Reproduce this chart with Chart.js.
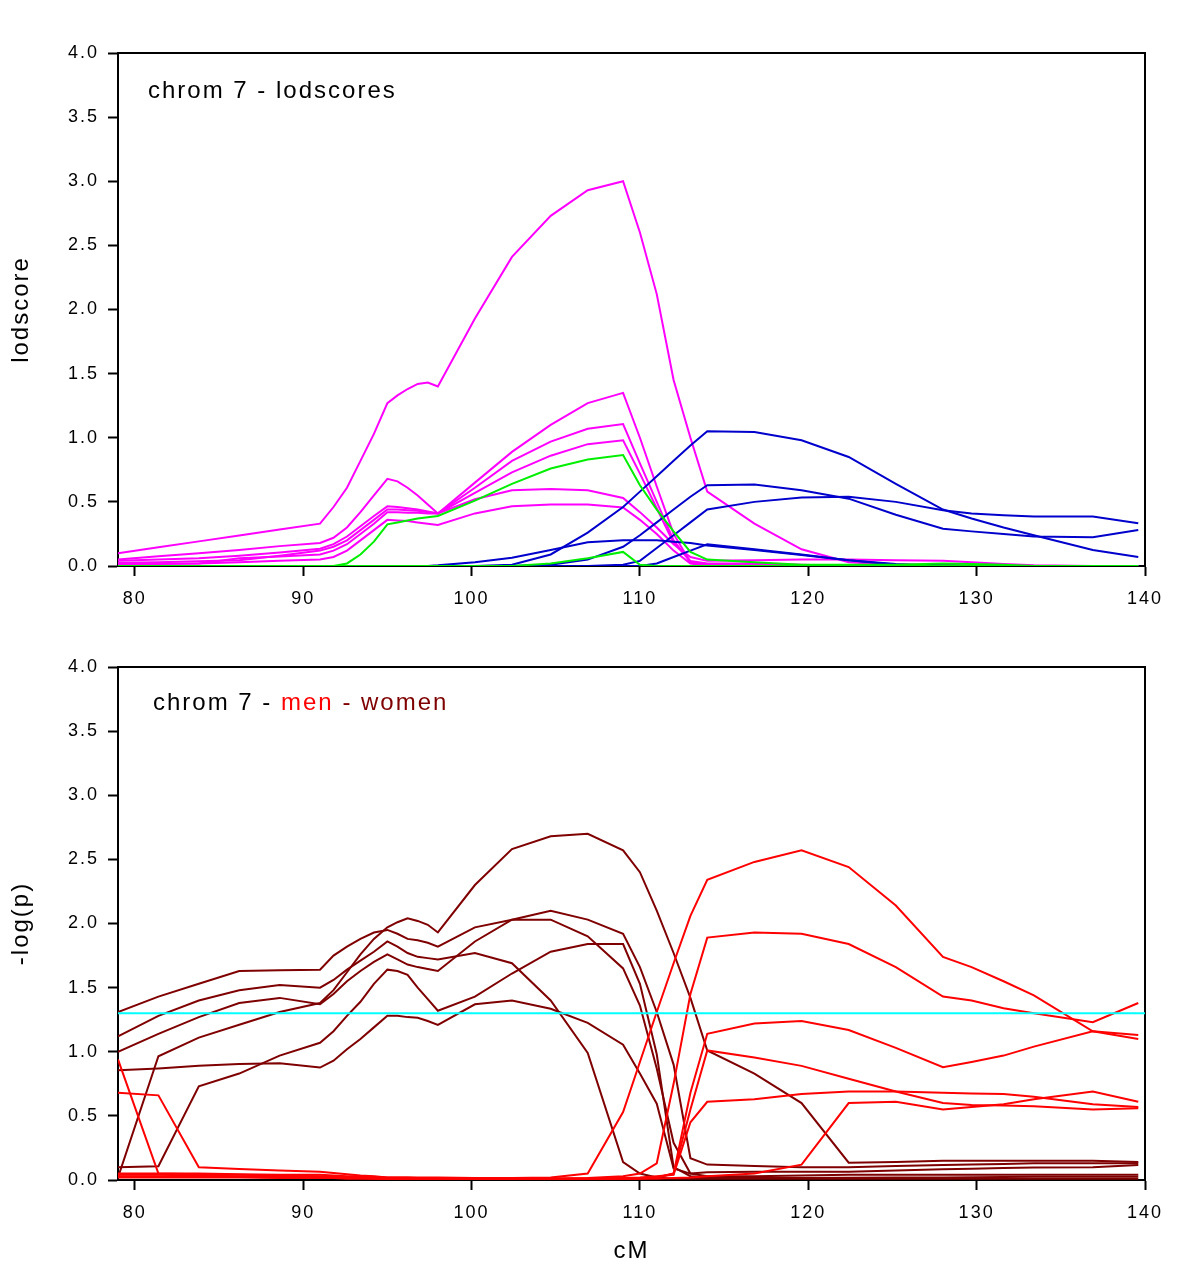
<!DOCTYPE html>
<html><head><meta charset="utf-8">
<script src="https://cdn.jsdelivr.net/npm/chart.js@4.4.1/dist/chart.umd.min.js"></script>
<style>
html,body{margin:0;padding:0;background:#fff;}
#wrap{position:relative;width:1200px;height:1271px;background:#fff;}
canvas{position:absolute;left:0;}
#c1{top:0}
#c2{top:630px}
</style></head><body>
<div id="wrap"><canvas id="c1" width="1200" height="630"></canvas><canvas id="c2" width="1200" height="641"></canvas></div>
<script>
// ---- data (cM positions shared by all curves) ----
const CM = [79, 81.4, 83.8, 86.2, 88.6, 91, 91.8, 92.6, 93.4, 94.2, 95, 95.6, 96.2, 96.8, 97.4, 98,
            100.2, 102.4, 104.7, 106.9, 109, 110, 111, 112, 113, 114,
            116.8, 119.6, 122.4, 125.2, 128, 129.7, 131.6, 133.4, 136.9, 139.6];
const X_TICKS = [80, 90, 100, 110, 120, 130, 140];
const Y_TICKS = [0, 0.5, 1, 1.5, 2, 2.5, 3, 3.5, 4];
const THRESHOLD = 1.3;

// top panel: lodscores
const LOD_MAGENTA_1 = [0.10,0.146,0.192,0.238,0.284,0.33, 0.46,0.61,0.82,1.03,1.27,1.33,1.38,1.42,1.43,1.40, 1.93,2.41,2.73,2.93,3.00, 2.60,2.12,1.45,1.00,0.58, 0.33,0.13,0.03,0.01,0.01,0,0,0,0,0];
const LOD_MAGENTA_2 = [0.05,0.076,0.10,0.125,0.155,0.18, 0.22,0.30,0.42,0.55,0.68,0.66,0.61,0.55,0.48,0.41, 0.65,0.89,1.10,1.27,1.35, 1.00,0.62,0.25,0.03,0.0, 0,0,0,0,0,0,0,0,0,0];
const LOD_MAGENTA_3 = [0.04,0.05,0.06,0.08,0.105,0.135, 0.17,0.23,0.31,0.39,0.465,0.46,0.45,0.44,0.425,0.41, 0.61,0.82,0.97,1.07,1.107, 0.80,0.50,0.20,0.03,0.01, 0.01,0,0,0,0,0,0,0,0,0];
const LOD_MAGENTA_4 = [0.025,0.03,0.037,0.045,0.08,0.12, 0.15,0.20,0.28,0.36,0.44,0.44,0.435,0.43,0.42,0.41, 0.57,0.73,0.86,0.95,0.98, 0.72,0.45,0.18,0.04,0.02, 0.02,0.01,0,0,0,0,0,0,0,0];
const LOD_MAGENTA_5 = [0.015,0.018,0.02,0.06,0.075,0.09, 0.12,0.17,0.25,0.33,0.42,0.42,0.415,0.415,0.41,0.41, 0.52,0.59,0.60,0.59,0.53, 0.42,0.30,0.17,0.07,0.04, 0.045,0.05,0.05,0.045,0.04,0.03,0.015,0.005,0,0];
const LOD_MAGENTA_6 = [0.01,0.015,0.02,0.03,0.04,0.05, 0.07,0.12,0.20,0.28,0.36,0.355,0.35,0.34,0.33,0.32, 0.41,0.466,0.48,0.48,0.457, 0.36,0.25,0.12,0.02,0.0, 0,0,0,0,0,0,0,0,0,0];
const LOD_GREEN_1 = [0,0,0,0,0,0, 0.0,0.02,0.09,0.19,0.325,0.34,0.355,0.37,0.38,0.39, 0.51,0.64,0.76,0.83,0.865, 0.63,0.44,0.27,0.11,0.05, 0.03,0.01,0.01,0.01,0.02,0.015,0.01,0,0,0];
const LOD_GREEN_2 = [0,0,0,0,0,0, 0,0,0,0,0,0,0,0,0,0, 0,0.0,0.02,0.06,0.11, 0.01,0,0,0,0, 0,0,0,0,0,0,0,0,0,0];
const LOD_BLUE_1 = [0,0,0,0,0,0, 0,0,0,0,0,0,0,0,0,0, 0,0.01,0.09,0.26,0.46, 0.58,0.70,0.82,0.94,1.05, 1.045,0.98,0.85,0.64,0.44,0.37,0.30,0.24,0.125,0.07];
const LOD_BLUE_2 = [0,0,0,0,0,0, 0,0,0,0,0,0,0,0,0,0, 0,0,0.01,0.05,0.15, 0.24,0.34,0.44,0.54,0.63, 0.635,0.59,0.525,0.40,0.29,0.27,0.25,0.23,0.224,0.28];
const LOD_BLUE_3 = [0,0,0,0,0,0, 0,0,0,0,0,0,0,0,0,0, 0,0,0,0,0.01, 0.04,0.14,0.24,0.34,0.44, 0.50,0.535,0.54,0.50,0.435,0.41,0.395,0.385,0.385,0.333];
const LOD_BLUE_4 = [0,0,0,0,0,0, 0,0,0,0,0,0,0,0,0,0.005, 0.03,0.065,0.125,0.185,0.20, 0.20,0.20,0.19,0.18,0.16, 0.125,0.085,0.045,0.015,0,0,0,0,0,0];
const LOD_BLUE_5 = [0,0,0,0,0,0, 0,0,0,0,0,0,0,0,0,0, 0,0,0,0,0, 0,0.02,0.07,0.12,0.17, 0.13,0.09,0.045,0.01,0.005,0,0,0,0,0];

// bottom panel: -log(p), women (dark red) and men (red)
const WOMEN_1 = [0.02,0.965,1.11,1.21,1.31,1.38, 1.48,1.62,1.76,1.88,1.97,2.01,2.04,2.02,1.99,1.93, 2.30,2.58,2.68,2.70,2.57, 2.40,2.10,1.77,1.42,1.01, 0.83,0.60,0.135,0.14,0.15,0.15,0.15,0.15,0.15,0.14];
const WOMEN_2 = [1.31,1.43,1.53,1.63,1.635,1.64, 1.75,1.82,1.88,1.93,1.95,1.92,1.88,1.87,1.85,1.82, 1.97,2.03,2.03,1.90,1.65, 1.36,0.87,0.29,0.05,0.03, 0.03,0.035,0.04,0.04,0.04,0.04,0.04,0.04,0.04,0.04];
const WOMEN_3 = [1.12,1.28,1.40,1.48,1.52,1.50, 1.56,1.64,1.71,1.78,1.86,1.82,1.77,1.74,1.73,1.72, 1.77,1.69,1.40,0.99,0.14, 0.05,0.02,0.01,0.01,0.01, 0.01,0.01,0.01,0.01,0.01,0.01,0.01,0.01,0.01,0.01];
const WOMEN_4 = [1.00,1.14,1.27,1.38,1.42,1.37, 1.45,1.55,1.63,1.70,1.76,1.72,1.68,1.66,1.645,1.63, 1.86,2.03,2.10,2.03,1.92, 1.66,1.31,0.90,0.17,0.12, 0.11,0.10,0.10,0.11,0.117,0.12,0.125,0.13,0.13,0.13];
const WOMEN_5 = [0.855,0.87,0.89,0.905,0.91,0.877, 0.93,1.02,1.10,1.19,1.28,1.28,1.27,1.265,1.24,1.21, 1.37,1.40,1.335,1.225,1.055, 0.83,0.595,0.09,0.05,0.06, 0.065,0.065,0.065,0.075,0.083,0.088,0.093,0.097,0.10,0.117];
const WOMEN_6 = [0.10,0.107,0.73,0.83,0.97,1.07, 1.16,1.28,1.39,1.53,1.64,1.63,1.60,1.50,1.41,1.32, 1.43,1.61,1.78,1.84,1.84, 1.53,0.98,0.10,0.03,0.02, 0.015,0.015,0.017,0.02,0.02,0.022,0.024,0.025,0.025,0.026];
const MEN_1 = [0.05,0.05,0.05,0.045,0.04,0.04, 0.035,0.03,0.03,0.025,0.02,0.02,0.02,0.02,0.02,0.02, 0.015,0.015,0.02,0.05,0.53, 0.92,1.31,1.69,2.06,2.34, 2.48,2.57,2.44,2.14,1.74,1.66,1.55,1.44,1.16,1.10];
const MEN_2 = [0.68,0.66,0.10,0.085,0.075,0.065, 0.055,0.045,0.035,0.03,0.02,0.02,0.02,0.015,0.015,0.015, 0.01,0.01,0.01,0.015,0.03, 0.05,0.13,0.75,1.45,1.89, 1.93,1.92,1.84,1.66,1.43,1.40,1.34,1.30,1.23,1.38];
const MEN_3 = [0.94,0.05,0.045,0.04,0.035,0.03, 0.025,0.02,0.02,0.015,0.01,0.01,0.01,0.01,0.01,0.01, 0.01,0.01,0.01,0.01,0.01, 0.015,0.02,0.05,0.68,1.14, 1.22,1.24,1.17,1.03,0.88,0.92,0.97,1.04,1.16,1.13];
const MEN_4 = [0.04,0.04,0.035,0.03,0.03,0.025, 0.02,0.02,0.015,0.015,0.01,0.01,0.01,0.01,0.01,0.01, 0.01,0.01,0.01,0.01,0.01, 0.01,0.02,0.05,0.55,1.01, 0.955,0.89,0.79,0.69,0.60,0.585,0.58,0.575,0.55,0.56];
const MEN_5 = [0.03,0.03,0.025,0.025,0.02,0.02, 0.02,0.015,0.015,0.01,0.01,0.01,0.01,0.01,0.01,0.01, 0.01,0.01,0.01,0.01,0.01, 0.01,0.01,0.015,0.02,0.03, 0.05,0.12,0.60,0.61,0.55,0.57,0.59,0.63,0.69,0.61];
const MEN_6 = [0.02,0.02,0.02,0.02,0.015,0.015, 0.015,0.01,0.01,0.01,0.01,0.01,0.01,0.01,0.01,0.01, 0.01,0.01,0.01,0.01,0.015, 0.02,0.03,0.04,0.45,0.61, 0.63,0.67,0.69,0.69,0.68,0.675,0.67,0.65,0.59,0.57];

// ---- styling ----
const FONT = '"Liberation Sans", Arial, Helvetica, sans-serif';
const C_MAGENTA = '#ff00ff', C_GREEN = '#00ee00', C_BLUE = '#0000cc';
const C_WOMEN = '#7f0000', C_MEN = '#ff0000', C_CYAN = '#00ffff';

Chart.defaults.font.family = FONT;
Chart.defaults.color = '#000';

const pts = vals => vals.map((v, i) => ({x: CM[i], y: v}));
const line = (vals, color, w) => ({data: pts(vals), borderColor: color, borderWidth: w || 2,
  pointRadius: 0, tension: 0, fill: false});

const spacing = {
  id: 'spacing',
  beforeDraw(chart) { chart.ctx.letterSpacing = '2px'; }
};
const frame = {
  id: 'frame',
  beforeDatasetsDraw(chart) {
    const a = chart.chartArea, ctx = chart.ctx;
    ctx.save(); ctx.strokeStyle = '#000'; ctx.lineWidth = 2;
    ctx.strokeRect(a.left, a.top, a.right - a.left, a.bottom - a.top);
    ctx.restore();
  }
};
const panelLabel = {
  id: 'panelLabel',
  afterDraw(chart, args, opts) {
    const ctx = chart.ctx, a = chart.chartArea;
    ctx.save();
    ctx.font = '24px ' + FONT; ctx.letterSpacing = '2px';
    ctx.textBaseline = 'middle'; ctx.textAlign = 'left';
    let x = a.left + opts.dx; const y = a.top + opts.dy;
    for (const [t, c] of opts.parts) { ctx.fillStyle = c; ctx.fillText(t, x, y); x += ctx.measureText(t).width; }
    ctx.restore();
  }
};

function scales(xH, yTitle, xTitle) {
  return {
    x: {
      type: 'linear', min: 79, max: 140,
      afterBuildTicks: s => { s.ticks = X_TICKS.map(v => ({value: v})); },
      afterFit: s => { s.height = xH; },
      ticks: {autoSkip: false, maxRotation: 0, padding: 12, font: {size: 18}, color: '#000',
        callback: v => String(v)},
      grid: {display: true, drawOnChartArea: false, drawTicks: true, tickLength: 10, tickWidth: 2, tickColor: '#000'},
      border: {display: true, color: '#000', width: 2},
      title: xTitle ? {display: true, text: xTitle, font: {size: 24}, color: '#000', padding: {top: 0, bottom: 5}} : {display: false}
    },
    y: {
      type: 'linear', min: 0, max: 4,
      afterBuildTicks: s => { s.ticks = Y_TICKS.map(v => ({value: v})); },
      afterFit: s => { s.width = 118; },
      ticks: {autoSkip: false, padding: 9, font: {size: 18}, color: '#000', callback: v => Number(v).toFixed(1)},
      grid: {display: true, drawOnChartArea: false, drawTicks: true, tickLength: 10, tickWidth: 2, tickColor: '#000'},
      border: {display: true, color: '#000', width: 2},
      title: {display: true, text: yTitle, font: {size: 24}, color: '#000', padding: {top: 7, bottom: 0}}
    }
  };
}

const common = (xH, yT, xT, pad, label) => ({
  responsive: false, animation: false, devicePixelRatio: 1,
  layout: {padding: pad},
  plugins: {legend: {display: false}, tooltip: {enabled: false}, panelLabel: label},
  scales: scales(xH, yT, xT)
});

new Chart(document.getElementById('c1'), {
  type: 'line',
  data: {datasets: [
    line(LOD_GREEN_1, C_GREEN), line(LOD_GREEN_2, C_GREEN),
    line(LOD_BLUE_1, C_BLUE), line(LOD_BLUE_2, C_BLUE), line(LOD_BLUE_3, C_BLUE), line(LOD_BLUE_4, C_BLUE), line(LOD_BLUE_5, C_BLUE),
    line(LOD_MAGENTA_1, C_MAGENTA), line(LOD_MAGENTA_2, C_MAGENTA), line(LOD_MAGENTA_3, C_MAGENTA),
    line(LOD_MAGENTA_4, C_MAGENTA), line(LOD_MAGENTA_5, C_MAGENTA), line(LOD_MAGENTA_6, C_MAGENTA)
  ]},
  options: common(64, 'lodscore', null, {top: 53, right: 55, left: 0, bottom: 0},
    {dx: 30, dy: 38, parts: [['chrom 7 - lodscores', '#000']]}),
  plugins: [spacing, frame, panelLabel]
});

new Chart(document.getElementById('c2'), {
  type: 'line',
  data: {datasets: [
    {data: [{x: 79, y: THRESHOLD}, {x: 140, y: THRESHOLD}], borderColor: C_CYAN, borderWidth: 2, pointRadius: 0, tension: 0},
    line(MEN_1, C_MEN), line(MEN_2, C_MEN), line(MEN_3, C_MEN), line(MEN_4, C_MEN), line(MEN_5, C_MEN), line(MEN_6, C_MEN),
    line(WOMEN_1, C_WOMEN), line(WOMEN_2, C_WOMEN), line(WOMEN_3, C_WOMEN), line(WOMEN_4, C_WOMEN), line(WOMEN_5, C_WOMEN), line(WOMEN_6, C_WOMEN)
  ]},
  options: common(91, '-log(p)', 'cM', {top: 37, right: 55, left: 0, bottom: 0},
    {dx: 35, dy: 36, parts: [['chrom 7 - ', '#000'], ['men', C_MEN], [' - women', C_WOMEN]]}),
  plugins: [spacing, frame, panelLabel]
});
</script>
</body></html>
